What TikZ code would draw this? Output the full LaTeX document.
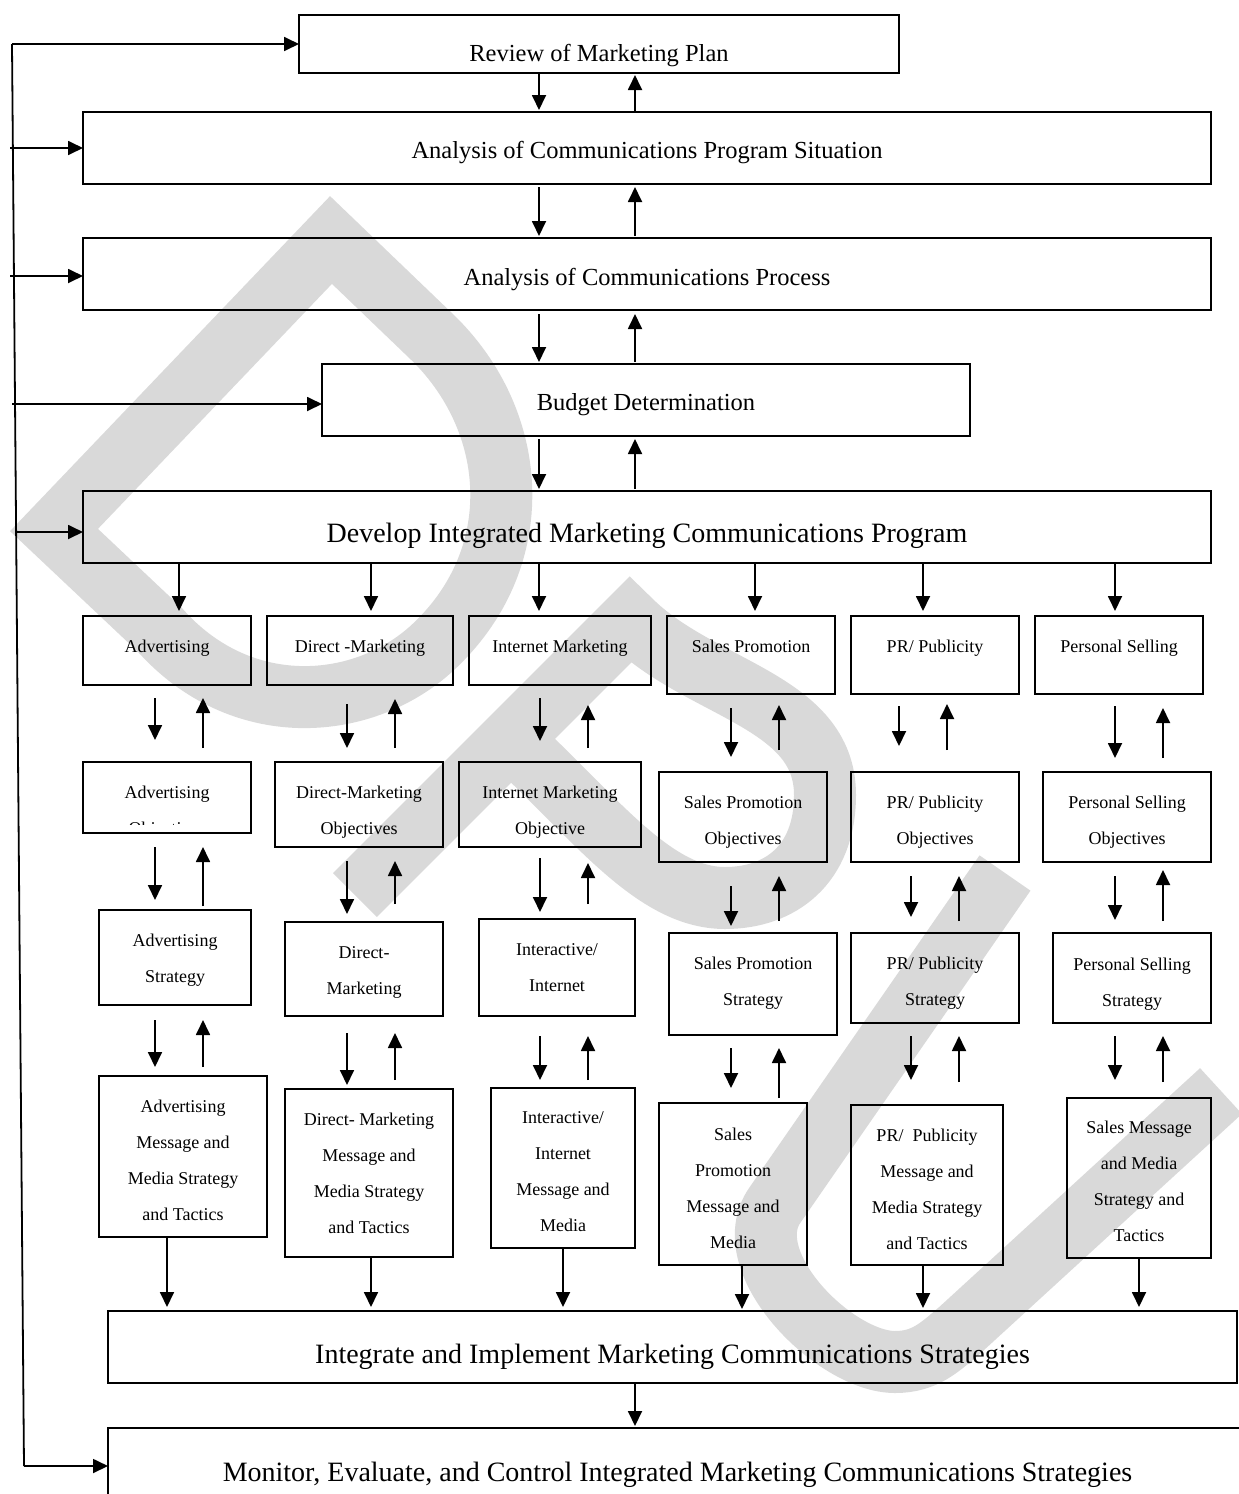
\documentclass[tikz,border=0pt]{standalone}
\usepackage{fontspec}
\setmainfont{Liberation Serif}
\usetikzlibrary{arrows.meta,fit}
\definecolor{wmgray}{RGB}{217,217,217}
\tikzset{
  box/.style={draw,line width=1.8pt,inner sep=0pt,outer sep=0pt},
  arr/.style={line width=1.8pt,-{Triangle[length=15pt,width=14pt]}},
  fbline/.style={line width=1.8pt},
  wm/.style={draw=wmgray,line width=62pt,line join=miter,line cap=butt},
  big/.style={font=\fontsize{28}{34}\selectfont,anchor=base,inner sep=0pt},
  mid/.style={font=\fontsize{24.5}{30}\selectfont,anchor=base,inner sep=0pt},
  sm/.style={font=\fontsize{18}{36}\selectfont,anchor=base,inner sep=0pt},
}
\newcommand\mkbox[5]{\node[box,fit={(#2,#3)(#4,#5)}] (#1) {};}
\newcommand\mktext[4]{\foreach \mytxt [count=\i] in {#4}{\node[sm] (#1-\i) at (#2,{#3+36*(\i-1)}) {\mytxt};}}
\begin{document}
\begin{tikzpicture}[x=1pt,y=-1pt]
\useasboundingbox (0,0) rectangle (1239,1494);
% watermark
\draw[wm] (54,530) -- (331,240) -- (430,335) .. controls (520,420) and (530,560) .. (430,650) .. controls (360,712) and (240,720) .. (160,630) -- cycle;
\draw[wm] (355,895) -- (630,620) .. controls (700,690) and (825,700) .. (825,795) .. controls (825,865) and (780,898) .. (725,898) .. controls (650,898) and (590,810) .. (500,730);
\draw[wm] (1005,873) -- (775,1205) .. controls (735,1262) and (835,1362) .. (895,1362) .. controls (925,1362) and (940,1347) .. (960,1330) -- (1221,1091);

% main boxes
\mkbox{review}{299}{15}{899}{73}
\mkbox{sit}{83}{112}{1211}{184}
\mkbox{proc}{83}{238}{1211}{310}
\mkbox{budget}{322}{364}{970}{436}
\mkbox{dev}{83}{491}{1211}{563}
\mkbox{integ}{108}{1311}{1237}{1383}
\mkbox{monitor}{108}{1428}{1247}{1510}
% row 1
\mkbox{adv1}{83}{616}{251}{685}
\mkbox{dm1}{267}{616}{453}{685}
\mkbox{im1}{469}{616}{651}{685}
\mkbox{sp1}{667}{616}{835}{694}
\mkbox{pr1}{851}{616}{1019}{694}
\mkbox{ps1}{1035}{616}{1203}{694}
% row 2
\mkbox{adv2}{83}{762}{251}{833}
\mkbox{dm2}{275}{762}{443}{847}
\mkbox{im2}{459}{762}{641}{847}
\mkbox{sp2}{659}{772}{827}{862}
\mkbox{pr2}{851}{772}{1019}{862}
\mkbox{ps2}{1043}{772}{1211}{862}
% row 3
\mkbox{adv3}{99}{910}{251}{1005}
\mkbox{dm3}{285}{922}{443}{1016}
\mkbox{im3}{479}{919}{635}{1016}
\mkbox{sp3}{669}{933}{837}{1035}
\mkbox{pr3}{851}{933}{1019}{1023}
\mkbox{ps3}{1053}{933}{1211}{1023}
% row 4
\mkbox{adv4}{99}{1076}{267}{1237}
\mkbox{dm4}{285}{1089}{453}{1257}
\mkbox{im4}{491}{1088}{635}{1248}
\mkbox{sp4}{659}{1103}{807}{1265}
\mkbox{pr4}{851}{1105}{1003}{1265}
\mkbox{ps4}{1067}{1098}{1211}{1258}

% main texts
\node[mid] (t-review) at (599,61) {Review of Marketing Plan};
\node[mid] (t-sit) at (647,158) {Analysis of Communications Program Situation};
\node[mid] (t-proc) at (647,285) {Analysis of Communications Process};
\node[mid] (t-budget) at (646,410) {Budget Determination};
\node[big] (t-dev) at (647,542) {Develop Integrated Marketing Communications Program};
\node[big] (t-integ) at (672.5,1363) {Integrate and Implement Marketing Communications Strategies};
\node[big] (t-monitor) at (677.5,1481) {Monitor, Evaluate, and Control Integrated Marketing Communications Strategies};

% row texts
\mktext{t-adv1}{167}{652}{Advertising}
\mktext{t-dm1}{360}{652}{Direct -Marketing}
\mktext{t-im1}{560}{652}{Internet Marketing}
\mktext{t-sp1}{751}{652}{Sales Promotion}
\mktext{t-pr1}{935}{652}{{PR/ Publicity}}
\mktext{t-ps1}{1119}{652}{Personal Selling}

\mktext{t-adv2}{167}{798}{Advertising}
\begin{scope}
\clip (83,762) rectangle (251,824);
\node[sm] (t-adv2-2) at (167,834) {Objectives};
\end{scope}
\mktext{t-dm2}{359}{798}{Direct-Marketing,Objectives}
\mktext{t-im2}{550}{798}{Internet Marketing,Objective}
\mktext{t-sp2}{743}{808}{Sales Promotion,Objectives}
\mktext{t-pr2}{935}{808}{{PR/ Publicity},Objectives}
\mktext{t-ps2}{1127}{808}{Personal Selling,Objectives}

\mktext{t-adv3}{175}{946}{Advertising,Strategy}
\mktext{t-dm3}{364}{958}{Direct-,Marketing}
\mktext{t-im3}{557}{955}{{Interactive/},Internet}
\mktext{t-sp3}{753}{969}{Sales Promotion,Strategy}
\mktext{t-pr3}{935}{969}{{PR/ Publicity},Strategy}
\mktext{t-ps3}{1132}{970}{Personal Selling,Strategy}

\mktext{t-adv4}{183}{1112}{Advertising,Message and,Media Strategy,and Tactics}
\mktext{t-dm4}{369}{1125}{Direct- Marketing,Message and,Media Strategy,and Tactics}
\mktext{t-im4}{563}{1123}{{Interactive/},Internet,Message and,Media}
\mktext{t-sp4}{733}{1140}{Sales,Promotion,Message and,Media}
\mktext{t-pr4}{927}{1141}{{PR/\ \ Publicity},Message and,Media Strategy,and Tactics}
\mktext{t-ps4}{1139}{1133}{Sales Message,and Media,Strategy and,Tactics}

% vertical arrows
\foreach \x/\a/\b in {
  539/74/110, 635/111/75,
  539/187/236, 635/236/187,
  539/314/362, 635/362/314,
  539/439/489, 635/489/439,
  179/563/611, 371/563/611, 539/563/611, 755/563/611, 923/563/611, 1115/563/611,
  155/698/740, 203/748/698, 347/704/748, 395/748/699, 540/698/741, 588/748/705,
  731/708/757, 779/750/705, 899/706/746, 947/750/704, 1115/706/758, 1163/758/708,
  155/847/900, 203/906/847, 347/861/914, 395/904/861, 540/858/912, 588/904/863,
  731/886/926, 779/921/876, 911/876/917, 959/921/876, 1115/876/920, 1163/921/870,
  155/1020/1067, 203/1067/1020, 347/1033/1085, 395/1080/1033, 540/1036/1080, 588/1080/1036,
  731/1048/1088, 779/1098/1048, 911/1036/1080, 959/1082/1036, 1115/1036/1080, 1163/1082/1036,
  167/1237/1307, 371/1257/1307, 563/1248/1307, 742/1266/1309, 923/1266/1308, 1139/1259/1307,
  635/1383/1426}
  {\draw[arr] (\x,\a) -- (\x,\b);}

% feedback loop
\coordinate (fbtop) at (12,44);
\coordinate (fbbot) at (24,1466);
\coordinate (fb1) at (10,148);
\coordinate (fb2) at (10,276);
\coordinate (fb3) at (12,404);
\coordinate (fb4) at (15,532);
\draw[fbline] (fbtop) -- (fbbot);
\draw[arr] (fbtop) -- (fbtop -| review.west);
\draw[arr] (fb1) -- (fb1 -| sit.west);
\draw[arr] (fb2) -- (fb2 -| proc.west);
\draw[arr] (fb3) -- (fb3 -| budget.west);
\draw[arr] (fb4) -- (fb4 -| dev.west);
\draw[arr] (fbbot) -- (fbbot -| monitor.west);
\end{tikzpicture}
\end{document}
